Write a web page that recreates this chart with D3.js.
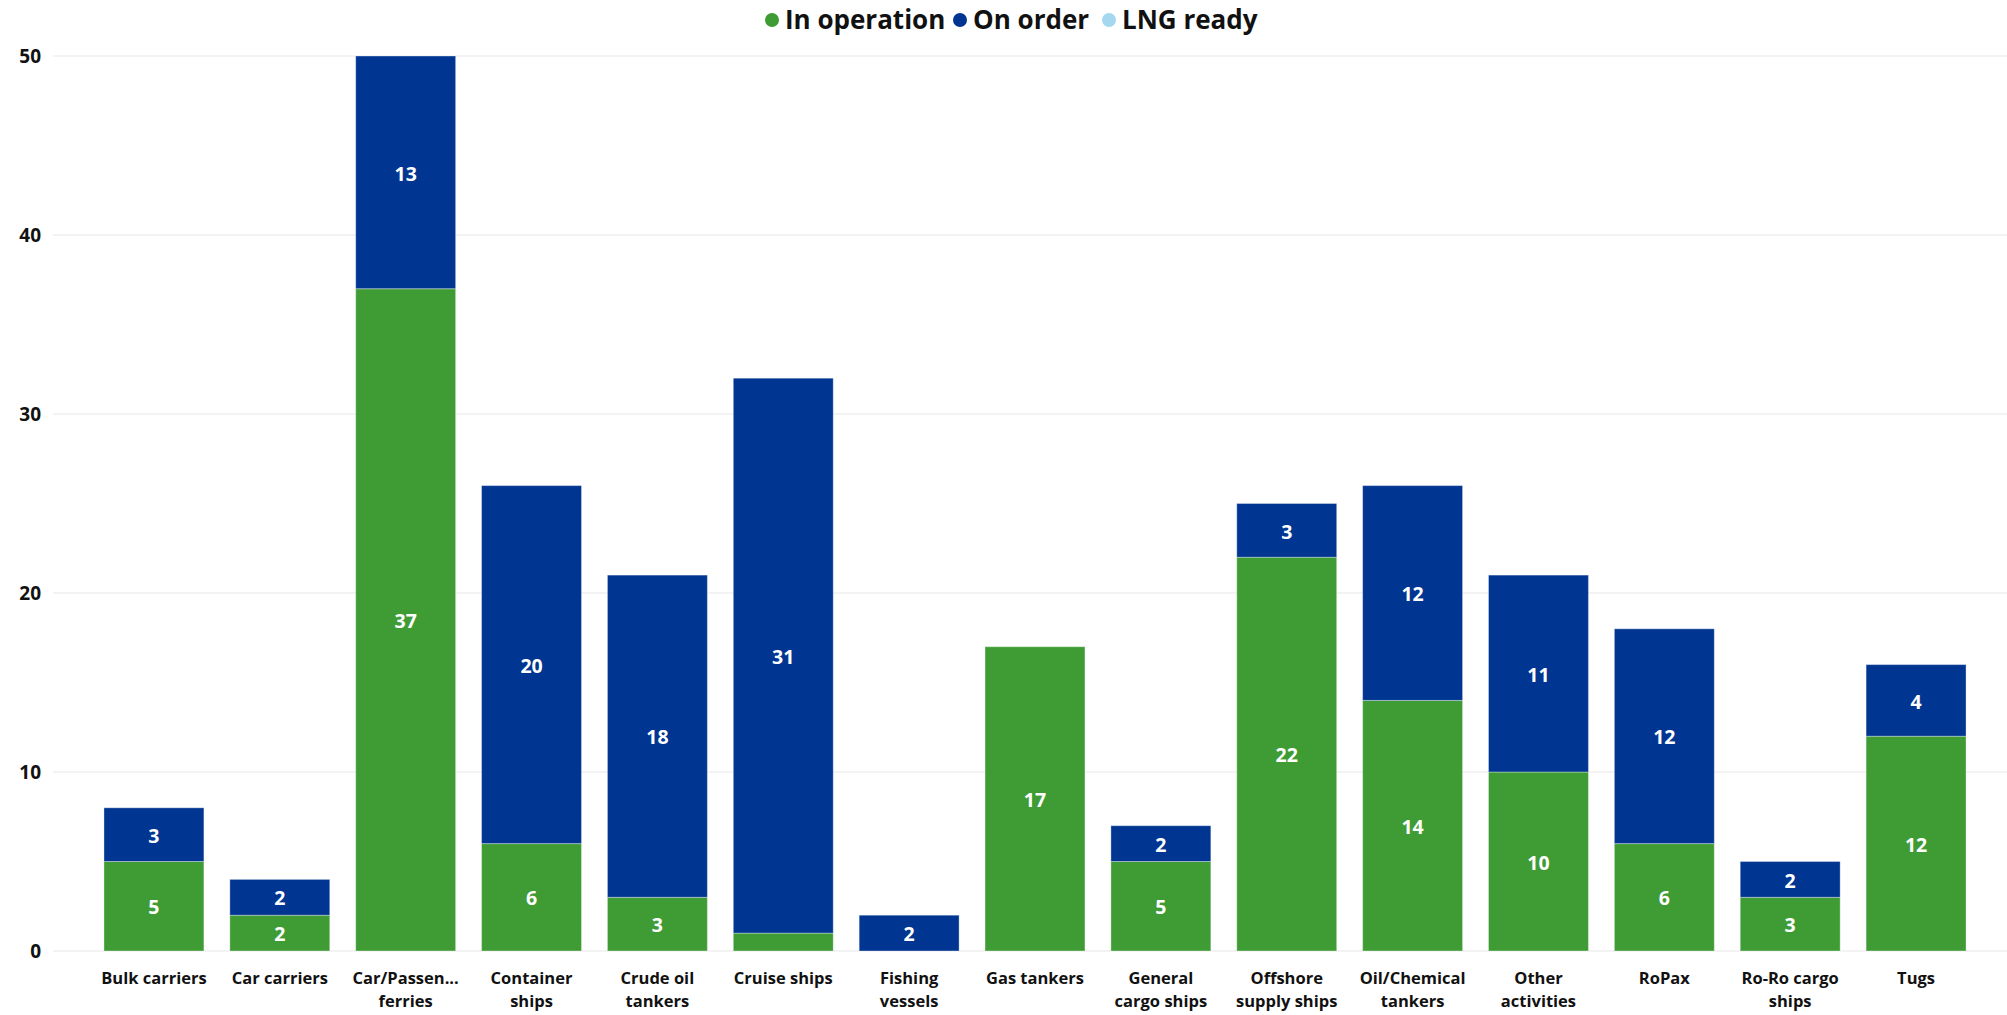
<!DOCTYPE html>
<html>
<head>
<meta charset="utf-8">
<script src="https://cdn.jsdelivr.net/npm/d3@7"></script>
<style>
  body { margin: 0; background: #fff; }
  svg text { font-family: "Open Sans", "Noto Sans", sans-serif; font-weight: bold; }
</style>
</head>
<body>
<svg id="chart" width="2007" height="1015"></svg>
<script>
// categories and their axis labels (already wrapped as in the report)
const categories = ["Bulk carriers", "Car carriers", "Car/Passenger ferries", "Container ships",
  "Crude oil tankers", "Cruise ships", "Fishing vessels", "Gas tankers", "General cargo ships",
  "Offshore supply ships", "Oil/Chemical tankers", "Other activities", "RoPax",
  "Ro-Ro cargo ships", "Tugs"];
const tickLabels = [["Bulk carriers"], ["Car carriers"], ["Car/Passen...", "ferries"],
  ["Container", "ships"], ["Crude oil", "tankers"], ["Cruise ships"], ["Fishing", "vessels"],
  ["Gas tankers"], ["General", "cargo ships"], ["Offshore", "supply ships"],
  ["Oil/Chemical", "tankers"], ["Other", "activities"], ["RoPax"], ["Ro-Ro cargo", "ships"], ["Tugs"]];

// series
const inOperation = [5, 2, 37, 6, 3, 1, 0, 17, 5, 22, 14, 10, 6, 3, 12];
const onOrder     = [3, 2, 13, 20, 18, 31, 2, 0, 2, 3, 12, 11, 12, 2, 4];
const lngReady    = [0, 0, 0, 0, 0, 0, 0, 0, 0, 0, 0, 0, 0, 0, 0];

const seriesNames = ["In operation", "On order", "LNG ready"];
const yTicks = [0, 10, 20, 30, 40, 50];

const colors = ["#3F9C35", "#003591", "#A5D8F0"];

const svg = d3.select("#chart");

const x = d3.scaleBand()
  .domain(categories)
  .range([91, 1979])
  .paddingInner(0.206)
  .paddingOuter(0.103);

const y = d3.scaleLinear()
  .domain([0, 50])
  .range([951, 56]);

// gridlines
svg.append("g")
  .selectAll("line")
  .data(yTicks)
  .join("line")
    .attr("x1", 53)
    .attr("x2", 2007)
    .attr("y1", d => y(d))
    .attr("y2", d => y(d))
    .attr("stroke", "#EFEFEF")
    .attr("stroke-width", 1.5);

// y axis labels
svg.append("g")
  .selectAll("text")
  .data(yTicks)
  .join("text")
    .attr("x", 41)
    .attr("y", d => y(d))
    .attr("dy", "0.36em")
    .attr("text-anchor", "end")
    .attr("font-size", 19)
    .attr("fill", "#111")
    .text(d => d);

// stack data
const rows = categories.map((c, i) => ({
  cat: c,
  "In operation": inOperation[i],
  "On order": onOrder[i],
  "LNG ready": lngReady[i]
}));
const stacked = d3.stack().keys(seriesNames)(rows);

const layers = svg.append("g")
  .selectAll("g")
  .data(stacked)
  .join("g")
    .attr("fill", (d, i) => colors[i]);

layers.selectAll("rect")
  .data(d => d.filter(s => s[1] - s[0] > 0))
  .join("rect")
    .attr("x", d => x(d.data.cat))
    .attr("width", x.bandwidth())
    .attr("y", d => y(d[1]))
    .attr("height", d => y(d[0]) - y(d[1]))
    .attr("stroke", "rgba(255,255,255,0.35)")
    .attr("stroke-width", 1);

// data labels
layers.selectAll("text")
  .data(d => d.filter(s => y(s[0]) - y(s[1]) > 25))
  .join("text")
    .attr("x", d => x(d.data.cat) + x.bandwidth() / 2)
    .attr("y", d => (y(d[0]) + y(d[1])) / 2)
    .attr("dy", "0.42em")
    .attr("text-anchor", "middle")
    .attr("font-size", 19.5)
    .attr("fill", "#fff")
    .text(d => d[1] - d[0]);

// x axis labels
const xl = svg.append("g")
  .selectAll("text")
  .data(categories)
  .join("text")
    .attr("x", d => x(d) + x.bandwidth() / 2)
    .attr("y", 978)
    .attr("text-anchor", "middle")
    .attr("font-size", 16.5)
    .attr("fill", "#111");

xl.selectAll("tspan")
  .data((d, i) => tickLabels[i])
  .join("tspan")
    .attr("x", function() { return this.parentNode.getAttribute("x"); })
    .attr("dy", (d, i) => i === 0 ? "0.36em" : 23)
    .text(d => d);

// legend
const legendX = [772, 960, 1109];
const legend = svg.append("g")
  .selectAll("g")
  .data(seriesNames)
  .join("g")
    .attr("transform", (d, i) => `translate(${legendX[i]},20)`);

legend.append("circle")
  .attr("r", 7)
  .attr("fill", (d, i) => colors[i]);

legend.append("text")
  .attr("x", 13)
  .attr("dy", "0.36em")
  .attr("font-size", 26)
  .attr("fill", "#111")
  .text(d => d);
</script>
</body>
</html>
